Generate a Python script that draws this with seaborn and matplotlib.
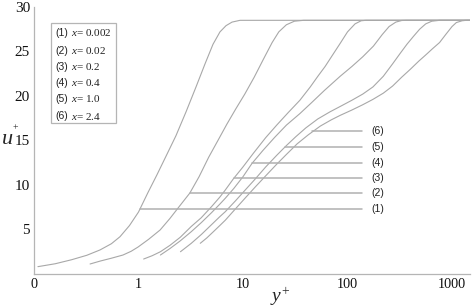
import numpy as np
import pandas as pd
import matplotlib
matplotlib.use("Agg")
import matplotlib.pyplot as plt
import seaborn as sns
from matplotlib.patches import Rectangle

# ---- data ----
c1_y = [0.109, 0.16, 0.229, 0.32, 0.428, 0.55, 0.665, 0.82, 1.0, 1.23, 1.5, 1.85, 2.28, 2.85,
        3.55, 4.33, 5.16, 6.02, 6.88, 7.85, 9.36, 12.0, 1486]
c1_u = [0.77, 1.1, 1.55, 2.05, 2.65, 3.35, 4.14, 5.4, 6.92, 9.1, 11.1, 13.3, 15.5, 18.2,
        21.0, 23.6, 25.8, 27.2, 27.9, 28.3, 28.5, 28.5, 28.5]

c2_y = [0.344, 0.43, 0.55, 0.71, 0.85, 0.99, 1.25, 1.61, 2.0, 2.39, 3.1, 3.8, 4.7, 5.77, 7.0,
        8.5, 10.4, 12.8, 15.8, 19.0, 22.0, 26.0, 31.0, 38.0, 1486]
c2_u = [1.07, 1.4, 1.72, 2.08, 2.5, 2.98, 3.85, 4.9, 6.2, 7.37, 9.06, 10.9, 13.1, 15.0, 16.8,
        18.5, 20.2, 22.1, 24.2, 26.0, 27.2, 28.0, 28.4, 28.5, 28.5]

c3_y = [1.12, 1.35, 1.62, 2.0, 2.51, 3.2, 3.98, 5.01, 6.0, 6.77, 8.14, 10.0, 12.5, 16.5, 21.0,
        27.0, 35.0, 44.0, 52.0, 61.0, 72.0, 85.0, 100.0, 118.0, 135.0, 150.0, 1486]
c3_u = [1.63, 2.0, 2.45, 3.17, 4.08, 5.3, 6.27, 7.54, 8.6, 9.4, 10.7, 12.0, 13.5, 15.3, 16.7,
        18.1, 19.5, 21.0, 22.2, 23.3, 24.6, 25.9, 27.2, 28.1, 28.45, 28.5, 28.5]

c4_y = [1.62, 2.0, 2.5, 3.2, 4.0, 5.0, 6.0, 6.77, 8.2, 10.0, 12.2, 15.5, 20.0, 26.0, 35.0,
        45.0, 60.0, 85.0, 110.0, 140.0, 177.0, 215.0, 250.0, 290.0, 330.0, 369.0, 1486]
c4_u = [2.08, 2.81, 3.66, 4.71, 5.74, 6.85, 7.81, 8.47, 9.6, 10.9, 12.4, 13.85, 15.3, 16.7, 18.0,
        19.2, 20.6, 22.2, 23.3, 24.4, 25.6, 26.9, 27.8, 28.3, 28.48, 28.5, 28.5]

c5_y = [2.52, 3.2, 4.0, 5.0, 6.0, 6.77, 8.5, 10.5, 13.0, 16.5, 21.0, 26.0, 32.0, 40.0, 52.0,
        68.0, 85.0, 110.0, 140.0, 175.0, 220.0, 270.0, 320.0, 370.0, 428.0, 490.0, 560.0,
        640.0, 760.0, 1486]
c5_u = [2.45, 3.4, 4.4, 5.5, 6.4, 6.96, 8.2, 9.4, 10.6, 12.0, 13.3, 14.4, 15.4, 16.4, 17.4,
        18.2, 18.8, 19.5, 20.2, 21.0, 22.2, 23.6, 24.8, 25.8, 26.7, 27.5, 28.1, 28.4, 28.5, 28.5]

c6_y = [3.9, 4.5, 5.2, 6.0, 6.77, 8.5, 10.5, 13.0, 16.5, 21.0, 26.0, 33.0, 42.0, 55.0, 70.0,
        85.0, 110.0, 140.0, 175.0, 220.0, 270.0, 330.0, 400.0, 480.0, 560.0, 650.0, 760.0,
        870.0, 1000.0, 1100.0, 1250.0, 1370.0, 1486]
c6_u = [3.4, 4.0, 4.7, 5.4, 6.0, 7.3, 8.5, 9.7, 11.0, 12.3, 13.4, 14.6, 15.6, 16.6, 17.3,
        17.8, 18.4, 19.0, 19.6, 20.3, 21.1, 22.1, 23.0, 23.9, 24.6, 25.3, 26.0, 26.9, 27.8,
        28.25, 28.45, 28.5, 28.5]

x_labels = ["0.002", "0.02", "0.2", "0.4", "1.0", "2.4"]
ann_y = [1.04, 3.1, 8.14, 12.2, 25.0, 46.0]
ann_u = [7.26, 9.06, 10.8, 12.4, 14.2, 16.0]
xtick_vals = [0.1, 1, 10, 100, 1000]
xtick_labels = ["0", "1", "10", "100", "1000"]
ytick_vals = [5, 10, 15, 20, 25, 30]

curves_y = [c1_y, c2_y, c3_y, c4_y, c5_y, c6_y]
curves_u = [c1_u, c2_u, c3_u, c4_u, c5_u, c6_u]

rows = []
for i, (ys, us) in enumerate(zip(curves_y, curves_u)):
    for k, (yy, uu) in enumerate(zip(ys, us)):
        rows.append({"curve": f"({i+1})", "order": k, "y": yy, "u": uu})
df = pd.DataFrame(rows)

# ---- style ----
sns.set_style("white")
plt.rcParams["font.family"] = ["Liberation Serif", "DejaVu Serif"]
plt.rcParams["mathtext.fontset"] = "custom"
plt.rcParams["mathtext.rm"] = "Liberation Serif"
plt.rcParams["mathtext.it"] = "Liberation Serif:italic"

W, H = 472, 308
fig = plt.figure(figsize=(W / 100, H / 100), dpi=100)
ax = fig.add_axes([34 / W, 1 - 273.5 / H, (470 - 34) / W, (273.5 - 7) / H])

line_col = "#a8a8a8"
sns.lineplot(data=df, x="y", y="u", hue="curve", units="curve", estimator=None,
             sort=False, palette=[line_col] * 6, linewidth=0.8, legend=False, ax=ax)

ax.set_xscale("log")
ax.set_xlim(0.1, 1486)
ax.set_ylim(0, 30)
ax.set_xticks(xtick_vals)
ax.set_xticklabels(xtick_labels)
ax.minorticks_off()
ax.set_yticks(ytick_vals)
ax.set_yticklabels([str(v) for v in ytick_vals])

for s in ["top", "right"]:
    ax.spines[s].set_visible(False)
for s in ["left", "bottom"]:
    ax.spines[s].set_color("#b5b5b5")
    ax.spines[s].set_linewidth(0.9)

ax.tick_params(axis="x", direction="in", length=4, width=0.8, color="#b5b5b5",
               labelsize=10.3, pad=3, labelcolor="#111111")
ax.tick_params(axis="y", direction="out", length=2, width=0.8, color="#b5b5b5",
               labelsize=11, pad=0.8, labelcolor="#111111")

ax.set_xlabel("")
ax.set_ylabel("")
fig.text(270 / W, 1 - 297 / H, r"$y^{+}$", fontsize=14, ha="left", va="center")
fig.text(1 / W, 1 - 140 / H, r"$u$", fontsize=16, ha="left", va="center")
fig.text(12.5 / W, 1 - 127 / H, r"$+$", fontsize=7, ha="left", va="center")

# annotation lines and labels
x_end = 139
for i, (ay, au) in enumerate(zip(ann_y, ann_u)):
    ax.plot([ay, x_end], [au, au], color="#b0b0b0", lw=1.1)
    ax.text(168, au, f"({i+1})", family="Liberation Sans", fontsize=7.5,
            ha="left", va="center", color="#222222")

# legend box
fig.add_artist(Rectangle((50.7 / W, 1 - 122.7 / H), 65 / W, 100 / H,
                         transform=fig.transFigure, fill=True, facecolor="white",
                         edgecolor="#b5b5b5", linewidth=0.9))
ys_leg = [33, 51, 67, 83, 99, 116]
for i, (lab, yp) in enumerate(zip(x_labels, ys_leg)):
    fig.text(55 / W, 1 - yp / H, f"({i+1})", family="Liberation Sans",
             fontsize=7.5, ha="left", va="center", color="#222222")
    fig.text(71 / W, 1 - yp / H, r"$x$" + f"= {lab}",
             fontsize=8, ha="left", va="center", color="#222222")

fig.savefig("out.png", dpi=100)
